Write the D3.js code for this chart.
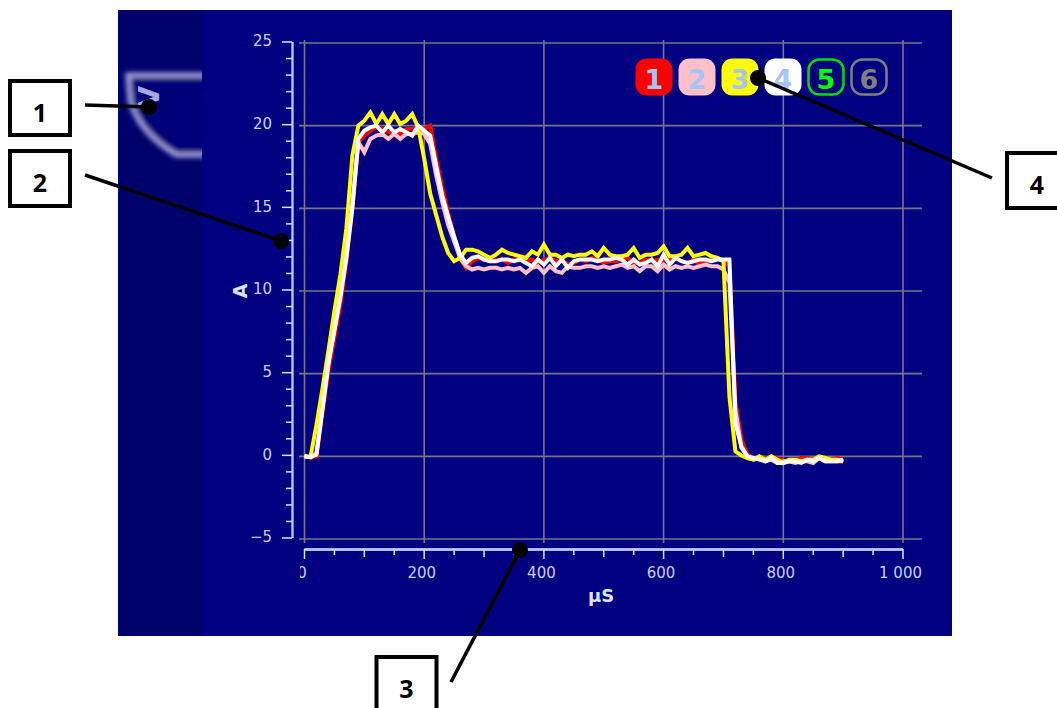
<!DOCTYPE html>
<html>
<head>
<meta charset="utf-8">
<script src="https://cdn.jsdelivr.net/npm/d3@7"></script>
<style>
  html, body { margin: 0; padding: 0; background: #fff; overflow: hidden; }
  text { font-family: "Noto Sans", sans-serif; }
  .tick text, .screen-label { font-family: "DejaVu Sans", sans-serif; }
</style>
</head>
<body>
<div id="chart"></div>
<script>
// sample times in uS, one reading every 10 uS
const times = d3.range(91).map(i => i * 10);

const seriesNames = ["1", "2", "3", "4"];
const seriesColors = ["#ff0000", "#ffc0cb", "#ffff00", "#ffffff"];

const red = [
  0, -0.05, 0, 2.6, 5.2, 7.2, 9.2, 11.8, 15, 19,
  19.4, 19.7, 19.9, 19.8, 19.6, 19.7, 19.5, 19.8, 19.8, 19.9,
  19.8, 20, 18, 16.3, 14.7, 13.3, 12, 11.4, 11.8, 12,
  11.9, 11.8, 11.9, 11.9, 11.7, 11.9, 12, 11.8, 11.9, 11.7,
  11.9, 12, 11.8, 11.9, 11.6, 11.7, 11.9, 11.8, 12, 11.9,
  11.7, 11.8, 11.8, 11.9, 12, 11.7, 11.7, 11.9, 11.8, 11.9,
  11.8, 11.9, 12, 11.8, 11.7, 11.9, 11.6, 11.8, 11.9, 12,
  11.8, 11.5, 3.3, 1, 0.1, -0.1, -0.1, -0.1, -0.2, -0.1,
  -0.3, -0.2, -0.2, -0.1, -0.1, -0.2, -0.1, -0.2, -0.2, -0.1,
  -0.2
];
const pink = [
  0, -0.05, 0.2, 3, 5.6, 7.8, 9.9, 12.2, 15.3, 19,
  18.4, 19.2, 19.4, 19.5, 19.2, 19.5, 19.2, 19.5, 19.5, 19.6,
  19.5, 18.9, 17, 15.4, 14, 13, 12, 11.5, 11.3, 11.4,
  11.3, 11.4, 11.4, 11.3, 11.4, 11.3, 11.4, 11.1, 11.4, 11.5,
  11.1, 11.5, 11.2, 11.1, 11.5, 11.4, 11.4, 11.5, 11.5, 11.4,
  11.5, 11.4, 11.5, 11.6, 11.4, 11.5, 11.2, 11.5, 11.5, 11.2,
  11.6, 11.3, 11.5, 11.4, 11.5, 11.4, 11.5, 11.6, 11.5, 11.5,
  11.3, 10.5, 2.8, 0.5, 0, -0.2, -0.1, -0.3, -0.2, -0.4,
  -0.3, -0.3, -0.4, -0.3, -0.3, -0.4, -0.1, -0.3, -0.3, -0.3,
  -0.3
];
const yellow = [
  0, -0.05, 1.9, 4.1, 6.4, 8.8, 11, 13.8, 18.2, 20,
  20.3, 20.8, 20.1, 20.7, 20.1, 20.7, 20.1, 20.3, 20.7, 19.9,
  18, 15.9, 14.6, 13.3, 12.3, 11.8, 12, 12.5, 12.5, 12.4,
  12.2, 12, 12.2, 12.5, 12.3, 12.2, 12.1, 12, 12.4, 12.2,
  12.8, 12.2, 12.2, 12, 12.2, 12.1, 12.2, 12.2, 12.4, 12.1,
  12.6, 12.2, 12.1, 12.1, 12.2, 12.6, 12, 12.2, 12.2, 12.3,
  12.7, 12.1, 12.1, 12.2, 12.6, 12.1, 12.2, 12.3, 12.1, 12,
  11.8, 3.6, 0.3, 0.05, -0.1, -0.2, 0, -0.2, 0, -0.2,
  -0.4, -0.2, -0.2, -0.3, -0.2, -0.2, 0, -0.1, -0.2, -0.2,
  -0.3
];
const white = [
  0, -0.05, 0.1, 2.8, 5.6, 7.6, 9.6, 12, 15, 19.2,
  19.7, 19.9, 20, 19.6, 20, 19.6, 19.8, 19.6, 19.4, 20,
  19.7, 19.4, 17.6, 15.8, 14.5, 13.3, 12.2, 11.7, 12, 12.1,
  11.9, 11.8, 11.8, 11.9, 11.9, 11.8, 11.9, 11.7, 11.5, 11.9,
  11.6, 12, 11.5, 11.9, 11.4, 11.8, 11.9, 11.9, 11.9, 11.8,
  11.9, 11.9, 12, 11.9, 11.6, 11.9, 11.6, 11.7, 11.9, 11.5,
  12.2, 11.6, 12, 11.8, 11.7, 11.8, 11.9, 11.9, 11.8, 11.9,
  11.9, 11.9, 2, 0.6, 0, -0.1, -0.2, -0.3, -0.1, -0.4,
  -0.4, -0.3, -0.3, -0.4, -0.2, -0.3, -0.1, -0.3, -0.3, -0.3,
  -0.2
];
const seriesValues = [red, pink, yellow, white];

const xMajor = [0, 200, 400, 600, 800, 1000];
const xMiddle = [100, 300, 500, 700, 900];
const xMinor = [50, 150, 250, 350, 450, 550, 650, 750, 850, 950];
const yMajor = [-5, 0, 5, 10, 15, 20, 25];
const yMinor = d3.range(-5, 25).filter(d => d % 5 !== 0);

const badgeLabels = ["1", "2", "3", "4", "5", "6"];
const badgeFills = ["#ff0000", "#ffc0cb", "#ffff00", "#ffffff", "none", "none"];
const badgeStrokes = ["#ff0000", "#ffc0cb", "#ffff00", "#ffffff", "#00e000", "#808080"];
const badgeText = ["#a8c4f4", "#a8c4f4", "#a8c4f4", "#a8c4f4", "#00ff00", "#808080"];

// numbered callouts around the screenshot
const calloutLabels = ["1", "2", "3", "4"];

const svg = d3.select("#chart").append("svg")
    .attr("width", 1057)
    .attr("height", 708);

const defs = svg.append("defs");
defs.append("filter").attr("id", "glow")
    .attr("x", "-20%").attr("y", "-20%").attr("width", "140%").attr("height", "140%")
    .append("feGaussianBlur").attr("stdDeviation", 2.4);
defs.append("clipPath").attr("id", "panel-clip")
    .append("rect").attr("x", 118).attr("y", 10).attr("width", 84).attr("height", 626);
defs.append("clipPath").attr("id", "tick-clip")
    .append("rect").attr("x", 300).attr("y", 0).attr("width", 700).attr("height", 708);

//background panels
svg.append("rect").attr("x", 118).attr("y", 10).attr("width", 834).attr("height", 626).attr("fill", "#000080");
svg.append("rect").attr("x", 118).attr("y", 10).attr("width", 84).attr("height", 626).attr("fill", "#00006c");

//tab on the left strip
const tab = svg.append("g").attr("clip-path", "url(#panel-clip)");
tab.append("path")
    .attr("d", "M215,75 L128,75 L130,100 Q138,132 176,155 L215,155")
    .attr("fill", "#000078")
    .attr("stroke", "#a4a4dc")
    .attr("stroke-width", 5)
    .attr("filter", "url(#glow)");
tab.append("text")
    .attr("class", "screen-label")
    .attr("transform", "translate(159,97) rotate(-90)")
    .attr("text-anchor", "middle")
    .attr("font-size", 29)
    .attr("font-weight", 700)
    .attr("fill", "#a8a8e0")
    .text("V");

const x = d3.scaleLinear().domain([0, 1000]).range([304.5, 903]);
const y = d3.scaleLinear().domain([-5, 25]).range([539, 43]);

//grid
const grid = svg.append("g").attr("stroke", "#767688").attr("stroke-width", 1.6);
grid.selectAll(".gx").data(xMajor).enter().append("line")
    .attr("x1", d => x(d)).attr("x2", d => x(d))
    .attr("y1", 40).attr("y2", 543);
grid.selectAll(".gy").data(yMajor).enter().append("line")
    .attr("y1", d => y(d)).attr("y2", d => y(d))
    .attr("x1", 299).attr("x2", 922);

//axes sit slightly off the grid, same as the original screen
function styleAxis(g) {
    g.select(".domain").attr("stroke", "#c4c8f0").attr("stroke-width", 1.8);
    g.selectAll("line").attr("stroke", "#dfe2fa").attr("stroke-width", 1.5);
    g.selectAll("text").attr("fill", "#c8d0f4").attr("font-size", 15);
}

const yAxisG = svg.append("g").attr("transform", "translate(292,-1.5)");
yAxisG.append("g")
    .call(d3.axisLeft(y).tickValues(yMinor).tickSize(6).tickFormat("").tickSizeOuter(0))
    .call(styleAxis);
yAxisG.append("g")
    .call(d3.axisLeft(y).tickValues(yMajor).tickSize(10).tickPadding(10).tickSizeOuter(0))
    .call(styleAxis)
    .selectAll("text").attr("dy", "0.28em");

const xFormat = d => d === 1000 ? "1 000" : String(d);
const xAxisG = svg.append("g").attr("transform", "translate(-0.5,549)");
xAxisG.append("g")
    .call(d3.axisBottom(x).tickValues(xMinor).tickSize(6).tickFormat("").tickSizeOuter(0))
    .call(styleAxis);
xAxisG.append("g")
    .call(d3.axisBottom(x).tickValues(xMiddle).tickSize(8).tickFormat("").tickSizeOuter(0))
    .call(styleAxis);
const xMajorG = svg.append("g")
    .attr("clip-path", "url(#tick-clip)")
    .append("g")
    .attr("transform", "translate(-0.5,549)")
    .call(d3.axisBottom(x).tickValues(xMajor).tickSize(10).tickPadding(8).tickFormat(xFormat).tickSizeOuter(0))
    .call(styleAxis);
xMajorG.selectAll("text").attr("dx", -2.5);

svg.append("text")
    .attr("class", "screen-label")
    .attr("x", 601).attr("y", 602)
    .attr("text-anchor", "middle")
    .attr("font-size", 18).attr("font-weight", 700)
    .attr("fill", "#dde2fa")
    .text("μS");
svg.append("text")
    .attr("class", "screen-label")
    .attr("transform", "translate(247,291) rotate(-90)")
    .attr("text-anchor", "middle")
    .attr("font-size", 19).attr("font-weight", 700)
    .attr("fill", "#dde2fa")
    .text("A");

//traces
const line = d3.line()
    .x((d, i) => x(times[i]))
    .y(d => y(d));

svg.selectAll(".trace").data(seriesValues).enter().append("path")
    .attr("class", "trace")
    .attr("d", line)
    .attr("fill", "none")
    .attr("stroke", (d, i) => seriesColors[i])
    .attr("stroke-width", 4)
    .attr("stroke-linejoin", "miter");

//channel buttons
const badges = svg.selectAll(".badge").data(badgeLabels).enter().append("g")
    .attr("class", "badge")
    .attr("transform", (d, i) => "translate(" + (654 + i * 43) + ",77)");
badges.append("rect")
    .attr("x", (d, i) => i > 3 ? -17.5 : -18.5)
    .attr("y", (d, i) => i > 3 ? -17.5 : -18.5)
    .attr("width", (d, i) => i > 3 ? 35 : 37)
    .attr("height", (d, i) => i > 3 ? 35 : 37)
    .attr("rx", 11)
    .attr("fill", (d, i) => badgeFills[i])
    .attr("stroke", (d, i) => i > 3 ? badgeStrokes[i] : "none")
    .attr("stroke-width", 2.5);
badges.append("text")
    .attr("class", "screen-label")
    .attr("text-anchor", "middle")
    .attr("y", 12)
    .attr("font-size", 27)
    .attr("font-weight", 700)
    .attr("fill", (d, i) => badgeText[i])
    .text(d => d);

//callouts, boxes and leader lines
const boxX = [10, 10, 376.5, 1007];
const boxY = [81, 151, 657, 153];
const boxW = [60, 60, 60, 60];
const boxH = [54, 55, 60, 55];
const leadFromX = [85, 85, 451, 992];
const leadFromY = [105, 175, 682, 178];
const leadToX = [149, 281, 520, 758];
const leadToY = [107, 241, 550, 78];

const callouts = svg.selectAll(".callout").data(calloutLabels).enter().append("g")
    .attr("class", "callout");
callouts.append("line")
    .attr("x1", (d, i) => leadFromX[i]).attr("y1", (d, i) => leadFromY[i])
    .attr("x2", (d, i) => leadToX[i]).attr("y2", (d, i) => leadToY[i])
    .attr("stroke", "#000").attr("stroke-width", 3.5);
callouts.append("circle")
    .attr("cx", (d, i) => leadToX[i]).attr("cy", (d, i) => leadToY[i])
    .attr("r", 8).attr("fill", "#000");
callouts.append("rect")
    .attr("x", (d, i) => boxX[i]).attr("y", (d, i) => boxY[i])
    .attr("width", (d, i) => boxW[i]).attr("height", (d, i) => boxH[i])
    .attr("fill", "#fff").attr("stroke", "#000").attr("stroke-width", 4);
callouts.append("text")
    .attr("x", (d, i) => boxX[i] + 30).attr("y", (d, i) => boxY[i] + 41)
    .attr("text-anchor", "middle")
    .attr("font-size", 25).attr("font-weight", 700)
    .attr("fill", "#000")
    .text(d => d);
</script>
</body>
</html>
